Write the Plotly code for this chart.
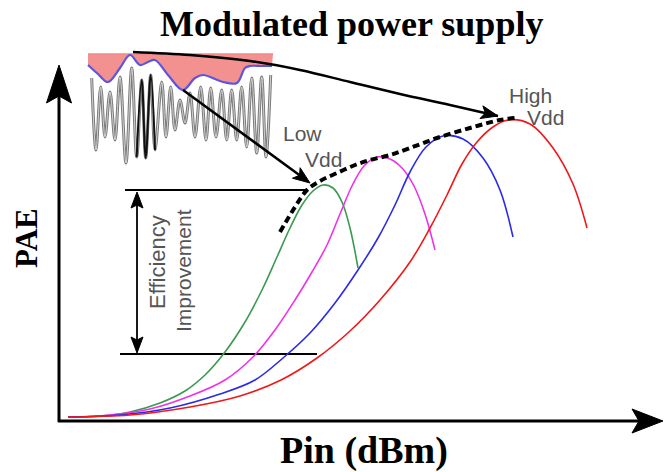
import math
import plotly.graph_objects as go

# ---- schematic data (canvas units, y grows downward) ----
green_x = [68, 100, 130, 160, 185, 205, 225, 245, 262, 277, 290, 302, 313, 323, 333, 342, 350, 358]
green_y = [417, 416, 412, 403, 391, 375, 352, 322, 290, 257, 228, 205, 191, 185, 188, 202, 228, 268]

magenta_x = [68, 110, 150, 190, 225, 253, 275, 295, 312, 327, 340, 352, 364, 377, 390, 402, 414, 425, 435]
magenta_y = [417, 415, 409, 396, 380, 357, 330, 300, 272, 245, 214, 186, 166, 157, 159, 168, 186, 214, 250]

blue_x = [68, 120, 170, 220, 255, 283, 310, 335, 358, 378, 395, 410, 426, 443, 463, 483, 500, 513]
blue_y = [417, 415, 408, 394, 380, 358, 333, 303, 270, 238, 205, 172, 147, 136, 139, 158, 190, 237]

red_x = [68, 130, 190, 240, 281, 317, 350, 380, 410, 430, 447, 462, 477, 493, 508, 530, 553, 573, 587]
red_y = [417, 415, 407, 396, 380, 358, 331, 300, 262, 228, 195, 164, 142, 127, 120, 124, 148, 184, 228]

vdd_locus_x = [280, 295, 307, 320, 337, 355, 370, 390, 410, 437, 470, 500, 515]
vdd_locus_y = [232, 207, 190, 181, 173, 165, 160, 155, 148, 138, 128, 120, 118]

# modulated supply: RF waveform (alternating crests / troughs) and its envelope
wave_x = [91.7, 96, 100.7, 105, 110, 115, 120, 126, 131.7, 136.7, 141.7, 145.7, 150.7, 155,
          161.7, 166, 170.7, 175, 180, 185, 190, 195, 200.7, 206, 210.7, 216, 221.7, 226.7,
          231.7, 236.7, 241.7, 246.7, 251.7, 256.7, 261.7, 266, 270.7]
wave_y = [78, 150, 87, 137, 92, 140, 77, 163, 68, 157, 80, 158, 75, 150,
          82, 137, 87, 130, 100, 123, 93, 137, 87, 140, 88, 137, 90, 140,
          90, 140, 87, 147, 78, 153, 77, 157, 75]
env_x = [88, 98, 108, 120, 130, 140, 148, 155, 168, 183, 195, 203, 223, 237, 245, 250, 262, 272]
env_y = [65, 74, 82, 68, 55, 65, 62, 60, 75, 90, 78, 75, 82, 83, 68, 66, 66, 66]
supply_top_x = [88, 273]
supply_top_y = [54, 54]

arrow1_x = [133, 190, 250, 300, 350, 400, 450, 498]
arrow1_y = [52, 55, 61, 70, 82, 94, 105, 116]
arrow2_x = [183, 310]
arrow2_y = [90, 183]

eff_top_x = [125, 307]
eff_top_y = [190, 190]
eff_bot_x = [120, 317]
eff_bot_y = [354, 354]
eff_arrow_x = [137, 137]
eff_arrow_y = [192, 353]

yaxis_x = [59, 59]
yaxis_y = [422, 65]
xaxis_x = [58, 663]
xaxis_y = [421, 421]

fig = go.Figure()


def line(x, y, color, width, shape="spline", dash=None):
    fig.add_trace(go.Scatter(x=x, y=y, mode="lines",
                             line=dict(color=color, width=width, shape=shape, dash=dash),
                             hoverinfo="skip", showlegend=False))


def head(tip, frm, length, hw, notch, color="black"):
    dx, dy = tip[0] - frm[0], tip[1] - frm[1]
    n = math.hypot(dx, dy)
    ux, uy = dx / n, dy / n
    nx, ny = -uy, ux
    bx, by = tip[0] - ux * length, tip[1] - uy * length
    px = [tip[0], bx + nx * hw, tip[0] - ux * (length - notch), bx - nx * hw, tip[0]]
    py = [tip[1], by + ny * hw, tip[1] - uy * (length - notch), by - ny * hw, tip[1]]
    fig.add_trace(go.Scatter(x=px, y=py, mode="lines", fill="toself", fillcolor=color,
                             line=dict(color=color, width=1), hoverinfo="skip",
                             showlegend=False))


# supply envelope (pink) and waveform
line(wave_x, wave_y, "#7a7a7a", 3.0)
line(wave_x, wave_y, "#dcdcdc", 0.9)
line(wave_x[9:14], wave_y[9:14], "#111111", 2.0)
line(supply_top_x, supply_top_y, "#f08a8a", 1.5, shape="linear")
fig.add_trace(go.Scatter(x=env_x, y=env_y, mode="lines", fill="tonexty",
                         fillcolor="#f39090", line=dict(color="#5b55e0", width=2.2, shape="spline"),
                         hoverinfo="skip", showlegend=False))

# arrows from supply
line(arrow1_x, arrow1_y, "black", 2.5)
head((arrow1_x[-1], arrow1_y[-1]), (arrow1_x[-2], arrow1_y[-2]), 17, 6.5, 4)
line([arrow2_x[0], arrow2_x[1] - 8], [arrow2_y[0], arrow2_y[1] - 6], "black", 2.5, shape="linear")
head((arrow2_x[1], arrow2_y[1]), (arrow2_x[0], arrow2_y[0]), 17, 6.5, 4)

# efficiency improvement marker
line(eff_top_x, eff_top_y, "black", 1.8, shape="linear")
line(eff_bot_x, eff_bot_y, "black", 1.8, shape="linear")
line(eff_arrow_x, [eff_arrow_y[0] + 10, eff_arrow_y[1] - 10], "black", 1.8, shape="linear")
head((eff_arrow_x[0], eff_arrow_y[0]), (eff_arrow_x[0], eff_arrow_y[1]), 16, 6, 3)
head((eff_arrow_x[1], eff_arrow_y[1]), (eff_arrow_x[1], eff_arrow_y[0]), 16, 6, 3)

# PAE curves
line(green_x, green_y, "#3a9a50", 1.6)
line(magenta_x, magenta_y, "#f032e6", 1.6)
line(blue_x, blue_y, "#2a2ae8", 1.6)
line(red_x, red_y, "#f01818", 1.6)
line(vdd_locus_x, vdd_locus_y, "black", 4, dash="7px,4px")

# axes
line(yaxis_x, [yaxis_y[0], yaxis_y[1] + 30], "black", 3, shape="linear")
head((yaxis_x[1], yaxis_y[1]), (yaxis_x[0], yaxis_y[0]), 38, 12.5, 7)
line([xaxis_x[0], xaxis_x[1] - 24], xaxis_y, "black", 3, shape="linear")
head((xaxis_x[1], xaxis_y[1]), (xaxis_x[0], xaxis_y[0]), 31, 12, 7)

sans = dict(family="Liberation Sans, Arial, sans-serif", size=21, color="#555555")
serif = "Liberation Serif, Times New Roman, serif"
ann = [
    dict(x=351, y=24, text="<b>Modulated power supply</b>",
         font=dict(family=serif, size=36, color="black")),
    dict(x=26, y=238, text="<b>PAE</b>", textangle=-90,
         font=dict(family=serif, size=31, color="black")),
    dict(x=364, y=450, text="<b>Pin (dBm)</b>",
         font=dict(family=serif, size=38, color="black")),
    dict(x=302, y=133, text="Low", font=sans),
    dict(x=323, y=159, text="Vdd", font=sans),
    dict(x=530, y=95, text="High", font=sans),
    dict(x=545, y=117, text="Vdd", font=sans),
    dict(x=157, y=262, text="Efficiency", textangle=-90, font=dict(sans, size=22)),
    dict(x=183, y=271, text="Improvement", textangle=-90, font=sans),
]
for a in ann:
    a.update(xref="x", yref="y", showarrow=False, xanchor="center", yanchor="middle")

fig.update_layout(
    width=665, height=472, autosize=False,
    margin=dict(l=0, r=0, t=0, b=0),
    paper_bgcolor="white", plot_bgcolor="white",
    xaxis=dict(range=[0, 665], visible=False, fixedrange=True),
    yaxis=dict(range=[472, 0], visible=False, fixedrange=True),
    annotations=ann,
    showlegend=False,
)

fig.write_html("out.html", config={"displayModeBar": False},
               post_script="document.body.style.margin='0';document.body.style.overflow='hidden';")
